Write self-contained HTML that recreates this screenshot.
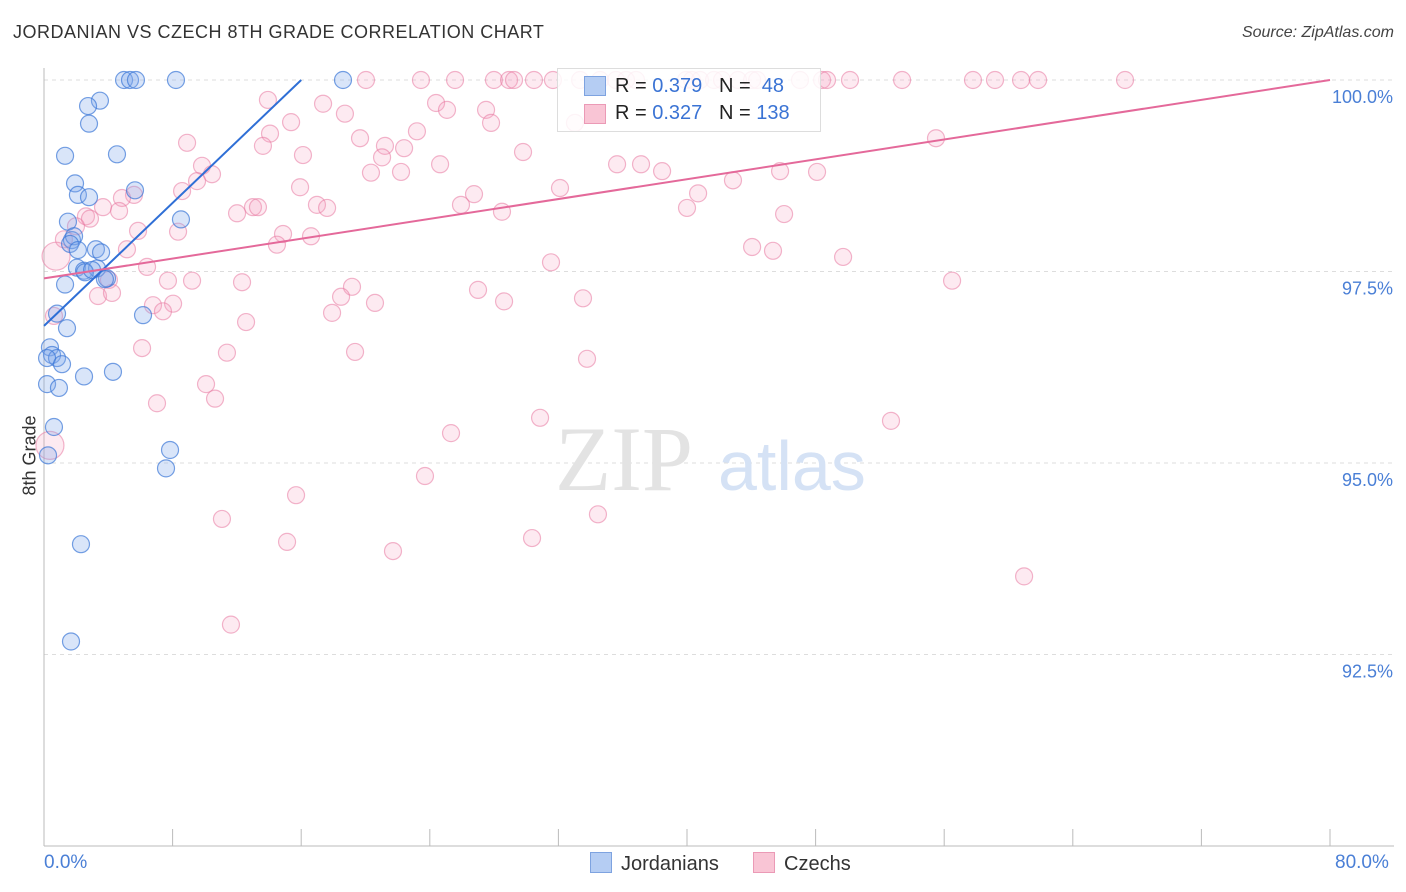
<!DOCTYPE html>
<html><head><meta charset="utf-8">
<style>
body{margin:0;background:#fff;font-family:"Liberation Sans",sans-serif;}
#wrap{position:relative;width:1406px;height:892px;overflow:hidden;}
.t{position:absolute;white-space:nowrap;}
</style></head>
<body>
<div id="wrap">
<div class="t" style="left:13px;top:22px;font-size:18px;color:#333;letter-spacing:0.5px;">JORDANIAN VS CZECH 8TH GRADE CORRELATION CHART</div>
<div class="t" style="right:12px;top:24px;font-size:16px;color:#444;font-style:italic;">Source: ZipAtlas.com</div>
<svg id="svg" width="1406" height="892" style="position:absolute;left:0;top:0"></svg>
</div>
<script>
const xTicks=[0,8,16,24,32,40,48,56,64,72,80];
const yTicks=[92.5,95,97.5,100];
const yTickLabels=["92.5%","95.0%","97.5%","100.0%"];
const blueX=[4.98,5.35,5.72,8.21,18.6,3.48,2.74,2.80,1.31,4.54,1.93,2.11,2.80,5.66,8.52,1.49,1.74,1.87,1.62,2.11,3.23,3.55,2.05,2.49,3.30,3.92,1.31,0.81,6.16,1.43,0.37,0.50,0.81,0.19,1.12,0.19,0.93,2.49,4.29,0.62,7.84,0.25,7.59,2.30,1.68,2.55,3.79,2.99];
const blueY=[100,100,100,100,100,99.73,99.66,99.43,99.01,99.03,98.65,98.50,98.47,98.56,98.18,98.15,97.91,97.96,97.86,97.78,97.79,97.75,97.55,97.51,97.54,97.41,97.33,96.95,96.93,96.76,96.51,96.41,96.37,96.37,96.29,96.03,95.98,96.13,96.19,95.47,95.17,95.10,94.93,93.94,92.67,97.49,97.40,97.52];
const pinkX=[20.03,23.45,25.57,27.99,28.93,29.24,30.48,31.66,33.35,34.59,35.58,36.21,36.83,39.94,40.31,40.81,41.68,42.18,43.17,44.05,44.36,47.03,48.40,48.71,50.14,53.38,57.79,59.16,60.78,61.84,67.25,
13.93,17.36,24.39,25.07,27.50,18.72,15.37,27.81,33.03,14.06,23.20,8.90,19.66,21.21,13.62,22.40,16.11,21.03,29.80,55.49,9.83,24.64,20.34,22.21,35.65,37.14,38.45,10.45,9.52,15.93,32.10,42.86,45.79,48.09,8.59,26.75,40.69,5.60,4.85,16.98,17.61,25.94,28.49,40.00,3.67,13.00,13.31,12.01,4.67,46.04,2.61,2.86,1.99,5.85,8.34,14.87,16.61,1.24,5.16,14.49,44.05,45.35,31.54,49.71,6.41,0.75,7.71,12.32,9.21,27.00,19.16,4.04,3.36,4.23,18.48,20.59,6.78,8.03,28.62,33.53,56.49,17.92,7.40,0.62,12.57,6.10,11.38,19.35,33.78,10.08,10.64,7.03,30.86,52.69,25.32,0.37,23.70,15.68,34.46,11.07,15.12,30.36,21.71,60.97,11.63];
const pinkY=[100,100,100,100,100,100,100,100,100,100,100,100,100,100,100,100,100,100,100,100,100,100,100,100,100,100,100,100,100,100,100,
99.74,99.69,99.70,99.61,99.61,99.56,99.45,99.44,99.44,99.30,99.33,99.18,99.24,99.14,99.14,99.11,99.02,98.99,99.06,99.24,98.88,98.90,98.79,98.80,98.90,98.90,98.81,98.77,98.68,98.60,98.59,98.69,98.81,98.80,98.55,98.51,98.52,98.50,98.46,98.37,98.33,98.37,98.28,98.33,98.34,98.34,98.34,98.26,98.29,98.25,98.22,98.19,98.09,98.03,98.02,97.99,97.96,97.92,97.79,97.85,97.82,97.77,97.62,97.69,97.56,97.70,97.38,97.36,97.38,97.26,97.30,97.39,97.18,97.22,97.17,97.09,97.06,97.08,97.11,97.15,97.38,96.96,96.98,96.92,96.84,96.50,96.44,96.45,96.36,96.03,95.84,95.78,95.59,95.55,95.39,95.23,94.83,94.58,94.33,94.27,93.97,94.02,93.85,93.52,92.89];
const blueTrend=[0,96.79,16,100];
const pinkTrend=[0,97.41,80,100];
const NS="http://www.w3.org/2000/svg";
const svg=document.getElementById('svg');
const X0=44,X1=1330,Y100=80,PXPER=76.6;
function sx(v){return X0+(v/80)*(X1-X0);}
function sy(v){return Y100+(100-v)*PXPER;}
function mk(tag,attrs,parent){const e=document.createElementNS(NS,tag);for(const k in attrs)e.setAttribute(k,attrs[k]);(parent||svg).appendChild(e);return e;}
yTicks.forEach((t,i)=>{
 const g=mk('line',{x1:X0,x2:1394,y1:sy(t),y2:sy(t),stroke:'#ddd','stroke-dasharray':'4,4'});
 
 
 const tx=mk('text',{x:1393,y:sy(t)+23,'text-anchor':'end','font-size':'18',fill:'#4a7fd6','font-family':'Liberation Sans, sans-serif'});
 tx.textContent=yTickLabels[i];
 
 
});
mk('line',{x1:X0,x2:X0,y1:68,y2:846,stroke:'#bbb'});
mk('line',{x1:X0,x2:1394,y1:846,y2:846,stroke:'#bbb'});
xTicks.forEach(t=>{const l=mk('line',{x1:sx(t),x2:sx(t),y1:829,y2:846,stroke:'#bbb'});
 
 });
const wm=mk('text',{x:555,y:490,'font-size':'92','font-family':'Liberation Serif, serif',fill:'#e3e3e3'});wm.textContent='ZIP';

const wm2=mk('text',{x:718,y:490,'font-size':'70','font-family':'Liberation Sans, sans-serif',fill:'#d5e2f5'});wm2.textContent='atlas';

function pts(xs,ys,fill,stroke,name){xs.forEach((x,i)=>{const big=(name==='czech-point'&&(x<1&&(ys[i]>97.6&&ys[i]<97.8||ys[i]<95.3&&ys[i]>95.2)));
 const c=mk('circle',{cx:sx(x),cy:sy(ys[i]),r:big?14:8.5,fill:fill,stroke:stroke,'stroke-width':1.2});
 
 });}
pts(pinkX,pinkY,'rgba(244,160,190,0.22)','rgba(232,120,160,0.55)','czech-point');
pts(blueX,blueY,'rgba(130,170,235,0.3)','rgba(60,120,215,0.7)','jordanian-point');
const bl=mk('line',{x1:sx(blueTrend[0]),y1:sy(blueTrend[1]),x2:sx(blueTrend[2]),y2:sy(blueTrend[3]),stroke:'#2f6fd6','stroke-width':2});

const pl=mk('line',{x1:sx(pinkTrend[0]),y1:sy(pinkTrend[1]),x2:sx(pinkTrend[2]),y2:sy(pinkTrend[3]),stroke:'#e4699a','stroke-width':2});

</script>
<div class="t" style="left:-10px;top:445px;font-size:18px;color:#333;transform:rotate(-90deg);">8th Grade</div>
<div class="t" style="left:44px;top:852px;font-size:19px;color:#4a7fd6;">0.0%</div>
<div class="t" style="left:1335px;top:852px;font-size:19px;color:#4a7fd6;">80.0%</div>
<div style="position:absolute;left:557px;top:68px;width:262px;height:62px;border:1px solid #ddd;background:rgba(255,255,255,0.85);font-size:20px;color:#222;">
 <div style="position:absolute;left:26px;top:7px;width:20px;height:18px;background:#b5cdf3;border:1px solid #7ea3e0;"></div>
 <div class="t" style="left:57px;top:6px;">R = <span style="color:#3a73d4">0.379</span>&nbsp;&nbsp;&nbsp;N = &nbsp;<span style="color:#3a73d4">48</span></div>
 <div style="position:absolute;left:26px;top:35px;width:20px;height:18px;background:#f9c5d5;border:1px solid #eb9ab6;"></div>
 <div class="t" style="left:57px;top:33px;">R = <span style="color:#3a73d4">0.327</span>&nbsp;&nbsp;&nbsp;N = <span style="color:#3a73d4">138</span></div>
</div>
<div style="position:absolute;left:590px;top:852px;font-size:20px;color:#333;">
 <span style="display:inline-block;width:20px;height:19px;background:#b5cdf3;border:1px solid #7ea3e0;vertical-align:-3px;margin-right:9px;"></span>Jordanians</div>
<div style="position:absolute;left:753px;top:852px;font-size:20px;color:#333;">
 <span style="display:inline-block;width:20px;height:19px;background:#f9c5d5;border:1px solid #eb9ab6;vertical-align:-3px;margin-right:9px;"></span>Czechs</div>
</body></html>
